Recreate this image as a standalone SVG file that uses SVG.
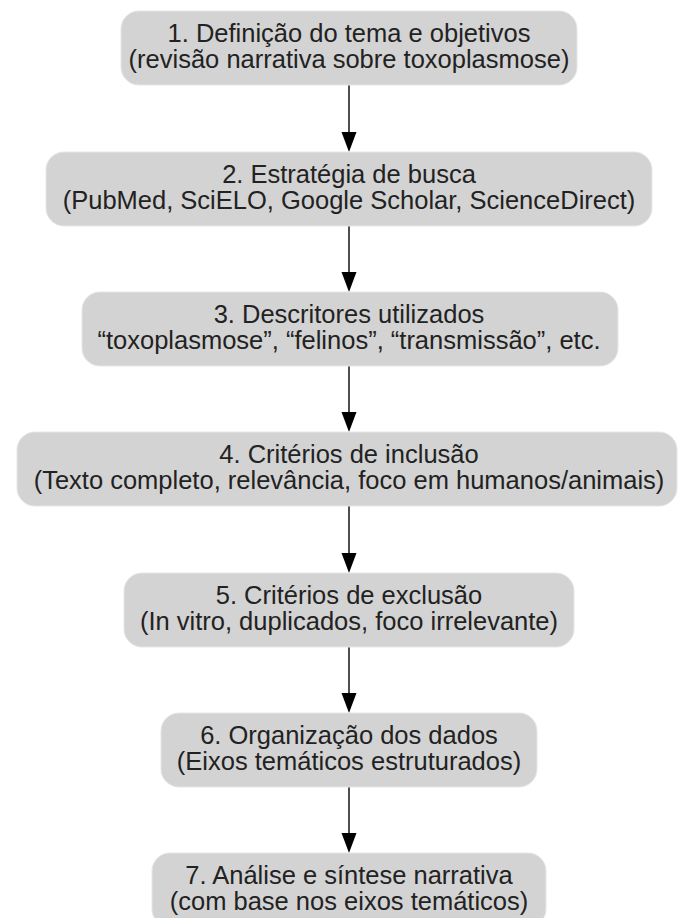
<svg xmlns="http://www.w3.org/2000/svg" width="679" height="918" viewBox="0 0 679 918">
<style>
.box{fill:#d3d3d3;stroke:#e6e6e6;stroke-width:1}
.t{font-family:"Liberation Sans",Arial,sans-serif;font-size:25.5px;fill:#222;text-anchor:middle}
.edge{stroke:#222;stroke-width:1.6;fill:none}
.head{fill:#000}
</style>
<rect width="679" height="918" fill="#fff"/>
<g id="connectors">
<line class="edge" x1="349" y1="85" x2="349" y2="134"/>
<polygon class="head" points="341.5,132 356.5,132 349,152"/>
<line class="edge" x1="349" y1="226" x2="349" y2="274"/>
<polygon class="head" points="341.5,272 356.5,272 349,292"/>
<line class="edge" x1="349" y1="366" x2="349" y2="414"/>
<polygon class="head" points="341.5,412 356.5,412 349,432"/>
<line class="edge" x1="349" y1="506" x2="349" y2="555"/>
<polygon class="head" points="341.5,553 356.5,553 349,573"/>
<line class="edge" x1="349" y1="647" x2="349" y2="695"/>
<polygon class="head" points="341.5,693 356.5,693 349,713"/>
<line class="edge" x1="349" y1="787" x2="349" y2="835"/>
<polygon class="head" points="341.5,833 356.5,833 349,853"/>
</g>
<g id="n1">
<rect class="box" x="121" y="11" width="456" height="74" rx="18"/>
<text class="t" x="349" y="41.5">1. Definição do tema e objetivos</text>
<text class="t" x="349" y="67.5">(revisão narrativa sobre toxoplasmose)</text>
</g>
<g id="n2">
<rect class="box" x="46" y="152" width="606" height="74" rx="18"/>
<text class="t" x="349" y="182.5">2. Estratégia de busca</text>
<text class="t" x="349" y="208.5">(PubMed, SciELO, Google Scholar, ScienceDirect)</text>
</g>
<g id="n3">
<rect class="box" x="82" y="292" width="536" height="74" rx="18"/>
<text class="t" x="349" y="322.5">3. Descritores utilizados</text>
<text class="t" x="349" y="348.5">“toxoplasmose”, “felinos”, “transmissão”, etc.</text>
</g>
<g id="n4">
<rect class="box" x="17" y="432" width="660" height="74" rx="18"/>
<text class="t" x="349" y="462.5">4. Critérios de inclusão</text>
<text class="t" x="349" y="488.5">(Texto completo, relevância, foco em humanos/animais)</text>
</g>
<g id="n5">
<rect class="box" x="124" y="573" width="450" height="74" rx="18"/>
<text class="t" x="349" y="603.5">5. Critérios de exclusão</text>
<text class="t" x="349" y="629.5">(In vitro, duplicados, foco irrelevante)</text>
</g>
<g id="n6">
<rect class="box" x="161" y="713" width="376" height="74" rx="18"/>
<text class="t" x="349" y="743.5">6. Organização dos dados</text>
<text class="t" x="349" y="769.5">(Eixos temáticos estruturados)</text>
</g>
<g id="n7">
<rect class="box" x="152" y="853" width="394" height="74" rx="18"/>
<text class="t" x="349" y="883.5">7. Análise e síntese narrativa</text>
<text class="t" x="349" y="909.5">(com base nos eixos temáticos)</text>
</g>
</svg>
